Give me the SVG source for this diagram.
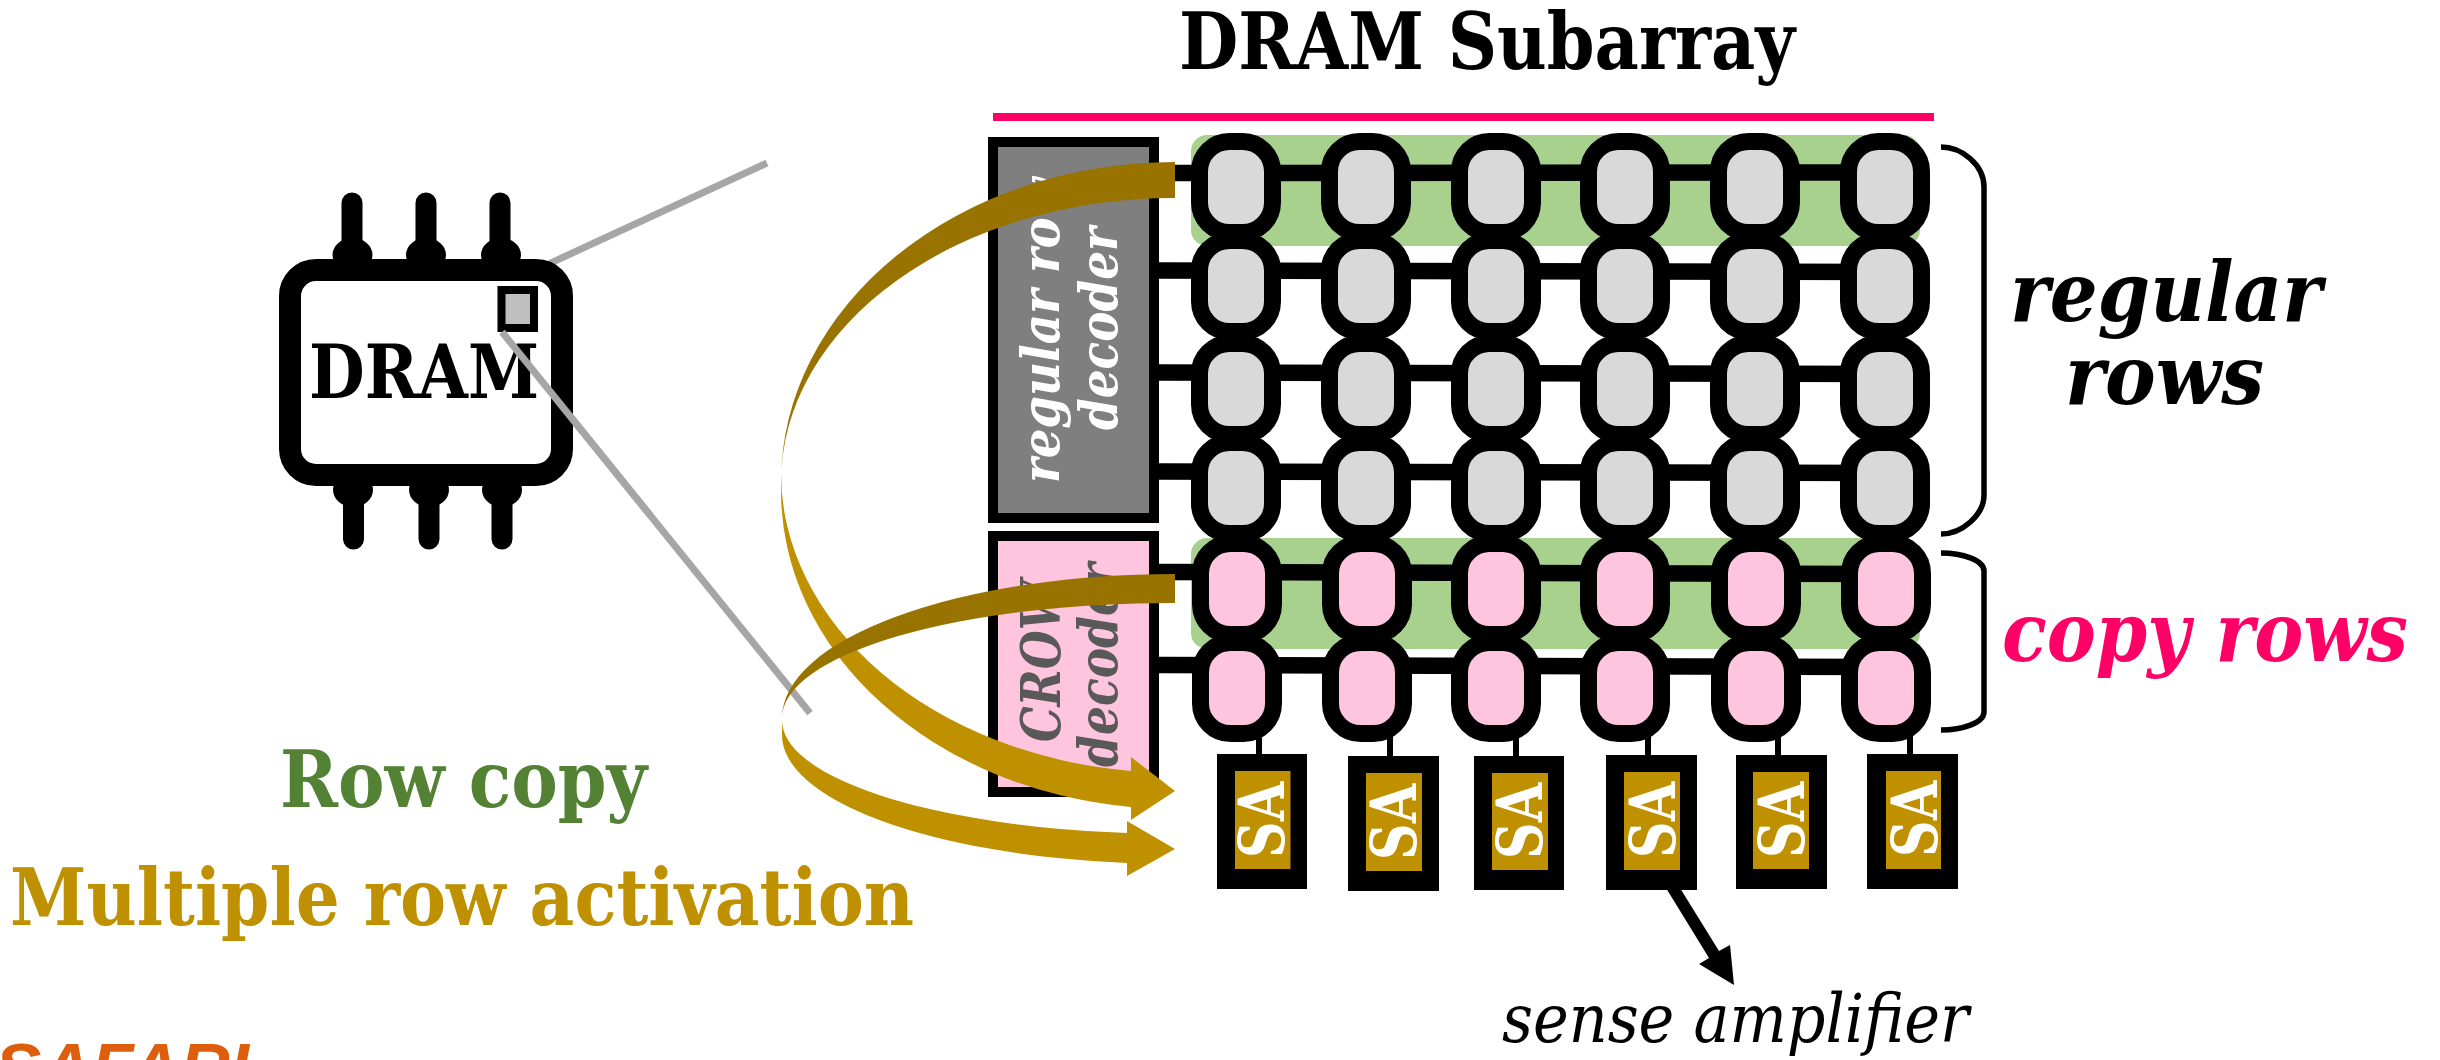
<svg xmlns="http://www.w3.org/2000/svg" width="2440" height="1060" viewBox="0 0 2440 1060">
<style>
text{font-family:"DejaVu Serif","Liberation Serif",serif;font-stretch:condensed;font-weight:700}
.i{font-style:italic}
.band{fill:#a9d18e}
.wire{stroke:#000;stroke-width:16.5;fill:none}
.cg,.cp{stroke:#000;stroke-width:17}
.cg{fill:#d9d9d9}
.cp{fill:#ffc5de}
.stem{stroke:#000;stroke-width:6}
.sao{fill:#000}
.sai{fill:#bf9000}
.sat{fill:#fff;font-size:64px}
.pin{stroke:#000;stroke-width:21;stroke-linecap:round}
.dark{fill:#997300}
.light{fill:#bf9000}
.gray{stroke:#a6a6a6;stroke-width:7}
.brace{fill:none;stroke:#000;stroke-width:5.5}
</style>
<defs>
<rect id="c" x="-36.5" y="-45.5" width="73" height="91" rx="30"/>
</defs>
<g id="highlights">
<rect class="band" x="1191" y="135" width="729" height="111" rx="16"/>
<rect class="band" x="1191" y="538" width="729" height="111" rx="16"/>
</g>
<g id="connectors">
<path class="wire" d="M1159 173L1886 172.5M1159 270.5L1886 272M1159 372.5L1886 374M1159 471.5L1886 473M1159 572L1886 574M1159 665L1886 667"/>
<path class="stem" d="M1259 720V756M1390 720V757M1516 720V757M1648 720V756M1778 720V756M1910 720V755"/>
<path class="gray" d="M501 286L767 163M502 332L810 713" id="zoom-lines"/>
<polygon id="sa-pointer" points="1666,888 1680,888 1719,951 1730,945 1734,985 1699,964 1709,958" fill="#000"/>
</g>
<g id="cells">
<g id="cell-1-1"><use href="#c" class="cg" x="1236" y="187"/></g>
<g id="cell-1-2"><use href="#c" class="cg" x="1366" y="187"/></g>
<g id="cell-1-3"><use href="#c" class="cg" x="1496" y="187"/></g>
<g id="cell-1-4"><use href="#c" class="cg" x="1625" y="187"/></g>
<g id="cell-1-5"><use href="#c" class="cg" x="1755" y="187"/></g>
<g id="cell-1-6"><use href="#c" class="cg" x="1885" y="187"/></g>
<g id="cell-2-1"><use href="#c" class="cg" x="1236" y="286"/></g>
<g id="cell-2-2"><use href="#c" class="cg" x="1366" y="286"/></g>
<g id="cell-2-3"><use href="#c" class="cg" x="1496" y="286"/></g>
<g id="cell-2-4"><use href="#c" class="cg" x="1625" y="286"/></g>
<g id="cell-2-5"><use href="#c" class="cg" x="1755" y="286"/></g>
<g id="cell-2-6"><use href="#c" class="cg" x="1885" y="286"/></g>
<g id="cell-3-1"><use href="#c" class="cg" x="1236" y="389"/></g>
<g id="cell-3-2"><use href="#c" class="cg" x="1366" y="389"/></g>
<g id="cell-3-3"><use href="#c" class="cg" x="1496" y="389"/></g>
<g id="cell-3-4"><use href="#c" class="cg" x="1625" y="389"/></g>
<g id="cell-3-5"><use href="#c" class="cg" x="1755" y="389"/></g>
<g id="cell-3-6"><use href="#c" class="cg" x="1885" y="389"/></g>
<g id="cell-4-1"><use href="#c" class="cg" x="1236" y="488"/></g>
<g id="cell-4-2"><use href="#c" class="cg" x="1366" y="488"/></g>
<g id="cell-4-3"><use href="#c" class="cg" x="1496" y="488"/></g>
<g id="cell-4-4"><use href="#c" class="cg" x="1625" y="488"/></g>
<g id="cell-4-5"><use href="#c" class="cg" x="1755" y="488"/></g>
<g id="cell-4-6"><use href="#c" class="cg" x="1885" y="488"/></g>
<g id="cell-5-1"><use href="#c" class="cp" x="1237" y="589"/></g>
<g id="cell-5-2"><use href="#c" class="cp" x="1367" y="589"/></g>
<g id="cell-5-3"><use href="#c" class="cp" x="1496" y="589"/></g>
<g id="cell-5-4"><use href="#c" class="cp" x="1625" y="589"/></g>
<g id="cell-5-5"><use href="#c" class="cp" x="1756" y="589"/></g>
<g id="cell-5-6"><use href="#c" class="cp" x="1886" y="589"/></g>
<g id="cell-6-1"><use href="#c" class="cp" x="1237" y="688"/></g>
<g id="cell-6-2"><use href="#c" class="cp" x="1367" y="688"/></g>
<g id="cell-6-3"><use href="#c" class="cp" x="1496" y="688"/></g>
<g id="cell-6-4"><use href="#c" class="cp" x="1625" y="688"/></g>
<g id="cell-6-5"><use href="#c" class="cp" x="1756" y="688"/></g>
<g id="cell-6-6"><use href="#c" class="cp" x="1886" y="688"/></g>
</g>
<g id="sa-1"><rect class="sao" x="1217" y="754" width="90" height="135"/><rect class="sai" x="1235" y="771" width="55.500" height="98"/><text class="sat" transform="translate(1284,858) rotate(-90)" textLength="76" lengthAdjust="spacingAndGlyphs">SA</text></g>
<g id="sa-2"><rect class="sao" x="1348" y="756" width="91" height="135"/><rect class="sai" x="1366" y="773" width="56" height="98"/><text class="sat" transform="translate(1416,860) rotate(-90)" textLength="76" lengthAdjust="spacingAndGlyphs">SA</text></g>
<g id="sa-3"><rect class="sao" x="1474" y="756" width="90" height="134"/><rect class="sai" x="1492" y="773" width="56" height="97"/><text class="sat" transform="translate(1542,859) rotate(-90)" textLength="76" lengthAdjust="spacingAndGlyphs">SA</text></g>
<g id="sa-4"><rect class="sao" x="1606" y="755" width="91" height="135"/><rect class="sai" x="1624" y="772" width="56" height="98"/><text class="sat" transform="translate(1675,858) rotate(-90)" textLength="76" lengthAdjust="spacingAndGlyphs">SA</text></g>
<g id="sa-5"><rect class="sao" x="1736" y="755" width="91" height="134"/><rect class="sai" x="1753" y="772" width="56" height="97"/><text class="sat" transform="translate(1804,858) rotate(-90)" textLength="76" lengthAdjust="spacingAndGlyphs">SA</text></g>
<g id="sa-6"><rect class="sao" x="1867" y="754" width="91" height="135"/><rect class="sai" x="1886" y="771" width="55" height="98"/><text class="sat" transform="translate(1937,857) rotate(-90)" textLength="76" lengthAdjust="spacingAndGlyphs">SA</text></g>
<g id="regular-decoder">
<rect x="993" y="142" width="161" height="376" fill="#7f7f7f" stroke="#000" stroke-width="10"/>
<text class="i" fill="#fff" font-size="52" transform="translate(1059,483) rotate(-90)" textLength="306" lengthAdjust="spacingAndGlyphs">regular row</text>
<text class="i" fill="#fff" font-size="52" transform="translate(1117,430) rotate(-90)" textLength="203" lengthAdjust="spacingAndGlyphs">decoder</text>
</g>
<g id="crow-decoder">
<rect x="993" y="536" width="161" height="256" fill="#ffc5de" stroke="#000" stroke-width="10"/>
<text class="i" fill="#595959" font-size="54" transform="translate(1060,742) rotate(-90)" textLength="162" lengthAdjust="spacingAndGlyphs">CROW</text>
<text class="i" fill="#595959" font-size="54" transform="translate(1117,767) rotate(-90)" textLength="204" lengthAdjust="spacingAndGlyphs">decoder</text>
</g>
<g id="dram-chip">
<path class="pin" d="M352 203V250M426 203V250M500 203V250M353.500 490V539M429 490V539M502 490V539"/>
<ellipse cx="352.500" cy="255" rx="20" ry="17"/><ellipse cx="426" cy="255" rx="20" ry="17"/><ellipse cx="501" cy="255" rx="20" ry="17"/>
<ellipse cx="353" cy="490" rx="20" ry="17"/><ellipse cx="429" cy="490" rx="20" ry="17"/><ellipse cx="502" cy="490" rx="20" ry="17"/>
<rect x="290" y="270" width="272" height="205" rx="26" fill="#fff" stroke="#000" stroke-width="22"/>
<text x="309" y="398" font-size="75" textLength="230" lengthAdjust="spacingAndGlyphs">DRAM</text>
<rect x="501.500" y="290" width="32.500" height="38" fill="#bfbfbf" stroke="#000" stroke-width="8"/>
</g>
<path class="gray" d="M502 332L650 515"/>
<g id="arrow-top">
<path class="light" d="M1131 771A394 300 0 0 1 781 472V490A394 318 0 0 0 1131 807V820L1175 791L1131 757Z"/>
<path class="dark" d="M1175 162A394 320 0 0 0 781 482A392 284 0 0 1 1175 198Z"/>
</g>
<g id="arrow-bottom">
<path class="light" d="M1127 833A393 113.600 0 0 1 782 720V735A393 129 0 0 0 1127 863V876L1175 849L1127 821Z"/>
<path class="dark" d="M1175 574A393 144 0 0 0 782 718A390 115 0 0 1 1175 603Z"/>
</g>
<g id="braces">
<path class="brace" d="M1941 147C1962 147 1984 165 1984 187V495C1984 515 1962 534 1941 534"/>
<path class="brace" d="M1941 553C1962 553 1984 560 1984 571V712C1984 723 1962 730 1941 730"/>
</g>
<g id="title"><text x="1179" y="69" font-size="78" textLength="616" lengthAdjust="spacingAndGlyphs">DRAM Subarray</text>
<rect x="993" y="113" width="941" height="8" fill="#ff0066"/></g>
<g id="labels">
<text class="i" x="2010" y="321" font-size="82" textLength="312" lengthAdjust="spacingAndGlyphs">regular</text>
<text class="i" x="2065" y="404" font-size="82" textLength="199" lengthAdjust="spacingAndGlyphs">rows</text>
<text class="i" x="2002" y="661" font-size="82" fill="#ff0066" textLength="406" lengthAdjust="spacingAndGlyphs">copy rows</text>
<text x="280" y="807" font-size="78" fill="#548235" textLength="367" lengthAdjust="spacingAndGlyphs">Row copy</text>
<text x="10" y="925" font-size="78" fill="#bf9000" textLength="904" lengthAdjust="spacingAndGlyphs">Multiple row activation</text>
<text class="i" x="1502" y="1042" font-size="68" font-weight="400" style="font-weight:400" textLength="467" lengthAdjust="spacingAndGlyphs">sense amplifier</text>
<text x="-5" y="1091" font-size="68" fill="#dd5f0d" style="font-family:'Liberation Sans',sans-serif;font-style:italic" textLength="254" lengthAdjust="spacingAndGlyphs">SAFARI</text>
</g>
</svg>
